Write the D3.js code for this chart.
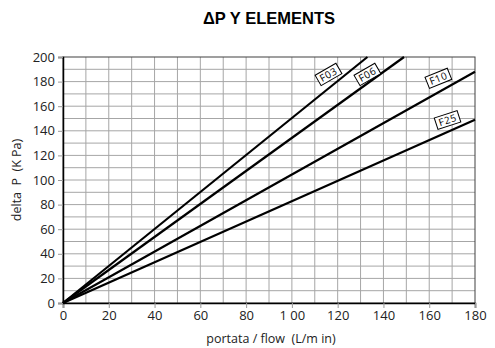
<!DOCTYPE html>
<html>
<head>
<meta charset="utf-8">
<script src="https://cdn.jsdelivr.net/npm/d3@7"></script>
<style>
  body { margin: 0; background: #fff; }
  text { font-family: "Open Sans", "Liberation Sans", sans-serif; }
</style>
</head>
<body>
<div id="canvas"></div>
<script>
let xTicks = [0, 20, 40, 60, 80, 100, 120, 140, 160, 180];
let xTickLabels = ["0", "20", "40", "60", "80", "1 00", "120", "140", "160", "180"];
let yTicks = [0, 20, 40, 60, 80, 100, 120, 140, 160, 180, 200];

let seriesNames = ["F03", "F06", "F10", "F25"];
let seriesFlow = [[0, 133], [0, 149], [0, 180], [0, 180]];
let seriesDeltaP = [[0, 200], [0, 200], [0, 188], [0, 149]];
// where along each line its label sits (flow value)
let labelAt = [116, 133, 164, 168];

// label box styling: lift above the line (px) and tilt (deg)
let labelLift = [14, 9, 14, 12];
let labelTilt = [-30, -30, -22, -18];

let width = 495, height = 348;
let margin = { top: 57, right: 20, bottom: 45, left: 63 };

let svg = d3
  .select("#canvas")
  .append("svg")
  .attr("width", width)
  .attr("height", height);

let x = d3.scaleLinear().domain([0, 180]).range([margin.left, width - margin.right]);
let y = d3.scaleLinear().domain([0, 200]).range([height - margin.bottom, margin.top]);

// grid every 10
let g = svg.append("g");
g.selectAll(".vg")
  .data(d3.range(10, 180, 10))
  .join("line")
  .attr("x1", (d) => x(d))
  .attr("x2", (d) => x(d))
  .attr("y1", y(0))
  .attr("y2", y(200))
  .attr("stroke", "#a6a6a6")
  .attr("stroke-width", 1);
g.selectAll(".hg")
  .data(d3.range(10, 200, 10))
  .join("line")
  .attr("y1", (d) => y(d))
  .attr("y2", (d) => y(d))
  .attr("x1", x(0))
  .attr("x2", x(180))
  .attr("stroke", "#a6a6a6")
  .attr("stroke-width", 1);

svg.append("rect")
  .attr("x", x(0))
  .attr("y", y(200))
  .attr("width", x(180) - x(0))
  .attr("height", y(0) - y(200))
  .attr("fill", "none")
  .attr("stroke", "#404040")
  .attr("stroke-width", 1);

// axes
let xAxis = svg.append("g")
  .attr("transform", `translate(0,${y(0)})`)
  .call(d3.axisBottom(x).tickValues(xTicks).tickFormat((d, i) => xTickLabels[i]).tickSize(5).tickPadding(3));
let yAxis = svg.append("g")
  .attr("transform", `translate(${x(0)},0)`)
  .call(d3.axisLeft(y).tickValues(yTicks).tickSize(5).tickPadding(3));
[xAxis, yAxis].forEach((a) => {
  a.select(".domain").attr("stroke", "#000").attr("stroke-width", 1.5);
  a.selectAll(".tick line").attr("stroke", "#999");
  a.selectAll("text").attr("font-size", 13).attr("fill", "#222")
    .style("font-family", '"Open Sans", sans-serif');
});

// lines
let line = d3.line().x((d) => x(d[0])).y((d) => y(d[1]));
seriesNames.forEach((name, i) => {
  let pts = seriesFlow[i].map((f, j) => [f, seriesDeltaP[i][j]]);
  svg.append("path")
    .attr("d", line(pts))
    .attr("fill", "none")
    .attr("stroke", "#000")
    .attr("stroke-width", 2.2);

  let slope = seriesDeltaP[i][1] / seriesFlow[i][1];
  let lx = labelAt[i];
  let cx = x(lx), cy = y(lx * slope) - labelLift[i];
  let lg = svg.append("g").attr("transform", `translate(${cx},${cy}) rotate(${labelTilt[i]})`);
  lg.append("rect")
    .attr("x", -12).attr("y", -6).attr("width", 24).attr("height", 12)
    .attr("fill", "#fff").attr("stroke", "#000").attr("stroke-width", 1);
  lg.append("text")
    .attr("text-anchor", "middle")
    .attr("dy", "0.36em")
    .attr("font-size", 10)
    .attr("letter-spacing", 0.6)
    .text(name);
});

// titles
svg.append("text")
  .attr("x", 269).attr("y", 24)
  .attr("text-anchor", "middle")
  .style("font-family", '"Liberation Sans", Arial, sans-serif')
  .attr("font-weight", "bold")
  .attr("font-size", 16.5)
  .text("ΔP Y ELEMENTS");

svg.append("text")
  .attr("x", 271).attr("y", 343)
  .attr("text-anchor", "middle")
  .attr("font-size", 12.5)
  .attr("fill", "#222")
  .style("white-space", "pre")
  .text("portata / flow  (L/m in)");

svg.append("text")
  .attr("transform", `translate(21,${(y(0) + y(200)) / 2}) rotate(-90)`)
  .attr("text-anchor", "middle")
  .attr("font-size", 12.5)
  .attr("fill", "#222")
  .style("white-space", "pre")
  .text("delta  P  (K Pa)");
</script>
</body>
</html>
